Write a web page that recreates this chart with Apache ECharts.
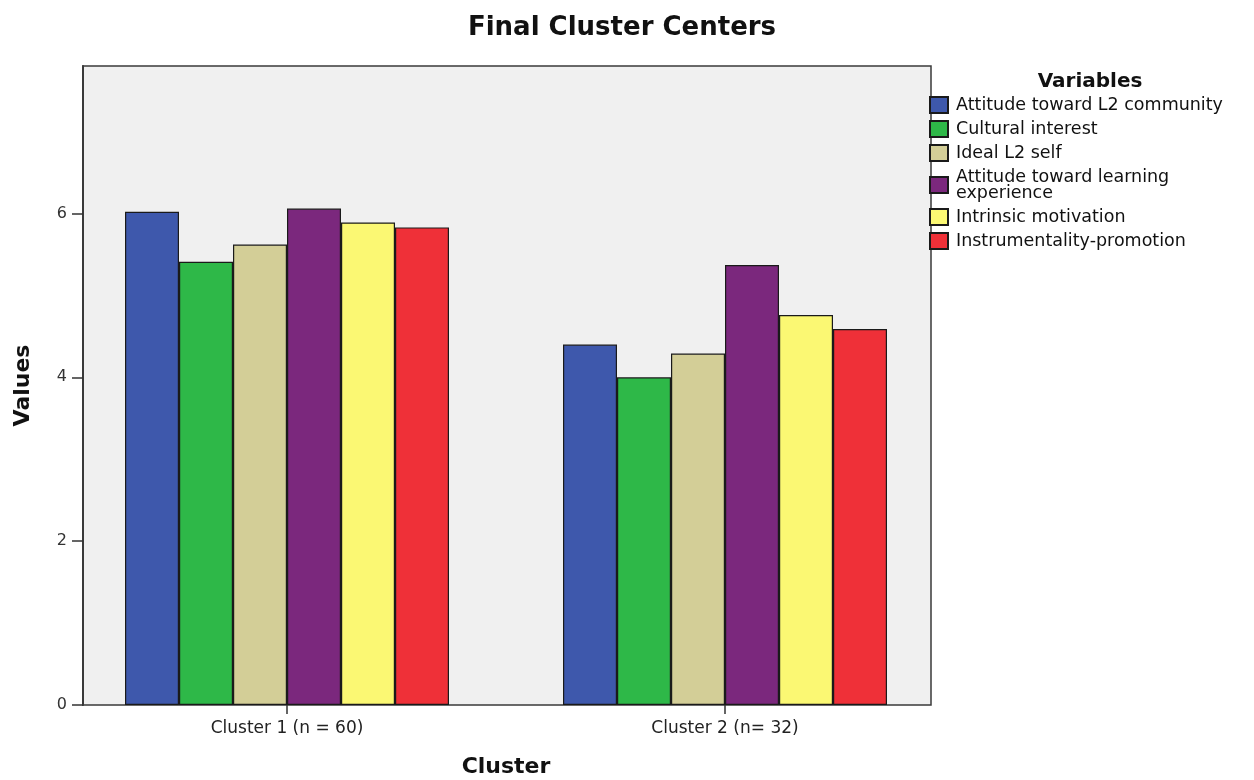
<!DOCTYPE html>
<html>
<head>
<meta charset="utf-8">
<title>Final Cluster Centers</title>
<script src="https://cdn.jsdelivr.net/npm/echarts@6/dist/echarts.min.js"></script>
<style>
  html, body { margin: 0; padding: 0; background: #ffffff; }
  #chart { width: 1254px; height: 780px; }
</style>
</head>
<body>
<div id="chart"></div>
<script>
// Cluster labels on the x axis
const clusters = ['Cluster 1 (n = 60)', 'Cluster 2 (n= 32)'];

// Motivation variables (legend order)
const variables = [
  'Attitude toward L2 community',
  'Cultural interest',
  'Ideal L2 self',
  'Attitude toward learning\nexperience',
  'Intrinsic motivation',
  'Instrumentality-promotion'
];

// Final cluster center per variable: [cluster 1, cluster 2]
const attitudeCommunity = [6.02, 4.40];
const culturalInterest = [5.41, 4.00];
const idealSelf = [5.62, 4.29];
const attitudeLearning = [6.06, 5.37];
const intrinsicMotivation = [5.89, 4.76];
const instrumentality = [5.83, 4.59];

const valueTicks = [0, 2, 4, 6];

const seriesValues = [
  attitudeCommunity, culturalInterest, idealSelf,
  attitudeLearning, intrinsicMotivation, instrumentality
];
const colors = ['#3e58ac', '#2eb848', '#d3ce97', '#7b287d', '#fbf873', '#ef3038'];

const FONT = '"DejaVu Sans", Verdana, sans-serif';

const chart = echarts.init(document.getElementById('chart'), null, { renderer: 'canvas' });

chart.setOption({
  backgroundColor: '#ffffff',
  animation: false,
  textStyle: { fontFamily: FONT },
  title: [
    {
      text: 'Final Cluster Centers',
      left: 617, top: 10, textAlign: 'center',
      textStyle: { fontFamily: FONT, fontSize: 26, fontWeight: 'bold', color: '#111' }
    },
    {
      text: 'Variables',
      left: 1085, top: 67, textAlign: 'center',
      textStyle: { fontFamily: FONT, fontSize: 20, fontWeight: 'bold', color: '#111' }
    }
  ],
  graphic: [
    {
      // plot panel
      type: 'rect', z: -10, silent: true,
      shape: { x: 83, y: 66, width: 848, height: 639 },
      style: { fill: '#f0f0f0', stroke: '#3a3a3a', lineWidth: 1.5 }
    }
  ],
  legend: {
    orient: 'vertical',
    left: 929, top: 96,
    padding: 0,
    itemWidth: 18, itemHeight: 16, itemGap: 6,
    icon: 'rect',
    textStyle: { fontFamily: FONT, fontSize: 17.5, lineHeight: 16, color: '#111', padding: [0, 0, 0, 3] },
    data: variables
  },
  grid: {
    left: 68, right: 310, top: 66, bottom: 75,
    show: false, containLabel: false, outerBoundsMode: 'none'
  },
  xAxis: {
    type: 'category',
    data: clusters,
    boundaryGap: true,
    name: 'Cluster',
    nameLocation: 'middle',
    nameGap: 51,
    nameTextStyle: { fontFamily: FONT, fontSize: 22, fontWeight: 'bold', color: '#111' },
    axisLine: { show: false },
    axisTick: { show: true, alignWithLabel: true, length: 9, lineStyle: { color: '#333', width: 1.5 } },
    axisLabel: { fontFamily: FONT, fontSize: 17, color: '#222', margin: 15 },
    splitLine: { show: false }
  },
  yAxis: {
    type: 'value',
    min: 0, max: 7.8,
    offset: -15,
    name: 'Values',
    nameLocation: 'middle',
    nameGap: 49,
    nameTextStyle: { fontFamily: FONT, fontSize: 22, fontWeight: 'bold', color: '#111' },
    axisLine: { show: true, lineStyle: { color: '#3a3a3a', width: 2 } },
    axisTick: { show: true, length: 11, customValues: valueTicks, lineStyle: { color: '#333', width: 1.5 } },
    axisLabel: { fontFamily: FONT, fontSize: 16, color: '#333', margin: 16, customValues: valueTicks },
    splitLine: { show: false }
  },
  series: variables.map((name, i) => ({
    type: 'bar',
    name: name,
    data: seriesValues[i],
    barWidth: 54,
    barGap: '0%',
    itemStyle: { color: colors[i], borderColor: '#1a1a1a', borderWidth: 1.2 },
    emphasis: { disabled: true }
  }))
});
</script>
</body>
</html>
